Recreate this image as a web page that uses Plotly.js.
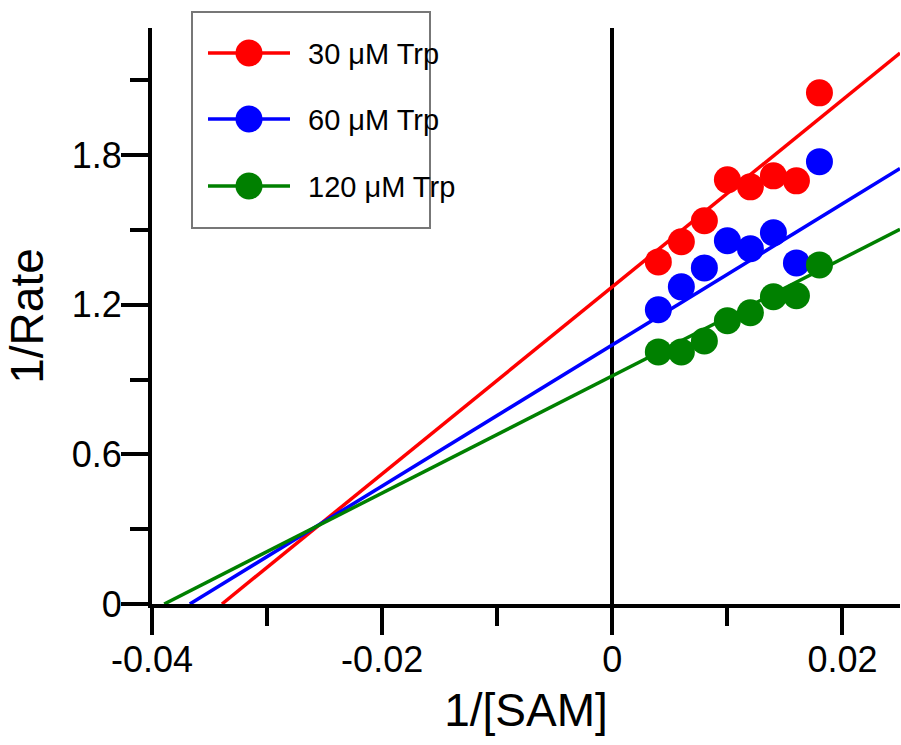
<!DOCTYPE html>
<html>
<head>
<meta charset="utf-8">
<script src="https://cdn.plot.ly/plotly-3.0.1.min.js"></script>
<style>html,body{margin:0;padding:0;background:#fff;}#chart{width:901px;height:745px;}</style>
</head>
<body>
<div id="chart"></div>
<script>
// Data
var invSAM = [0.004, 0.006, 0.008, 0.010, 0.012, 0.014, 0.016, 0.018];
var rate30 = [1.372, 1.453, 1.537, 1.701, 1.673, 1.717, 1.697, 2.050];
var rate60 = [1.180, 1.272, 1.348, 1.457, 1.425, 1.489, 1.368, 1.774];
var rate120 = [1.011, 1.011, 1.055, 1.136, 1.168, 1.232, 1.236, 1.360];
var seriesNames = ['30 μM Trp', '60 μM Trp', '120 μM Trp'];
var fitIntercepts = [1.272, 1.039, 0.915];
var fitSlopes = [37.5, 28.3, 23.5];
var xTickVals = [-0.04, -0.02, 0, 0.02];
var xTickText = ['-0.04', '-0.02', '0', '0.02'];
var yTickVals = [0, 0.6, 1.2, 1.8];
var yTickText = ['0', '0.6', '1.2', '1.8'];

var colors = ['#ff0000', '#0000ff', '#008000'];
var xRange = [-0.04, 0.025];
var yRange = [0, 2.31];
var seriesY = [rate30, rate60, rate120];

var traces = [];
for (var i = 0; i < 3; i++) {
  var x0 = -fitIntercepts[i] / fitSlopes[i];
  var x1 = xRange[1];
  traces.push({
    x: [x0, x1],
    y: [fitIntercepts[i] + fitSlopes[i] * x0, fitIntercepts[i] + fitSlopes[i] * x1],
    mode: 'lines', line: {color: colors[i], width: 3.5}, showlegend: false, hoverinfo: 'skip'
  });
}
for (var i = 0; i < 3; i++) {
  traces.push({
    x: invSAM, y: seriesY[i], mode: 'markers', name: seriesNames[i],
    marker: {color: colors[i], size: 27}, showlegend: false, cliponaxis: false
  });
}

// Plot-area geometry (pixels) used to place the hand-drawn legend box
var M = {l: 152, r: 1, t: 28, b: 141};
var W = 901 - M.l - M.r, H = 745 - M.t - M.b;
function px(xp) { return (xp - M.l) / W; }
function py(yp) { return (745 - M.b - yp) / H; }

var shapes = [{
  type: 'rect', xref: 'paper', yref: 'paper', layer: 'above',
  x0: px(192), x1: px(430), y0: py(228), y1: py(12),
  line: {color: '#777', width: 2}, fillcolor: '#fff'
}];
var annotations = [];
var rowY = [53, 119, 186];
for (var i = 0; i < 3; i++) {
  shapes.push({
    type: 'line', xref: 'paper', yref: 'paper', layer: 'above',
    x0: px(208), x1: px(290), y0: py(rowY[i]), y1: py(rowY[i]),
    line: {color: colors[i], width: 3.5}
  });
  shapes.push({
    type: 'circle', xref: 'paper', yref: 'paper', layer: 'above',
    xsizemode: 'pixel', ysizemode: 'pixel',
    xanchor: px(249), yanchor: py(rowY[i]),
    x0: -13.5, x1: 13.5, y0: -13.5, y1: 13.5,
    line: {width: 0}, fillcolor: colors[i]
  });
  annotations.push({
    xref: 'paper', yref: 'paper', x: px(306), y: py(rowY[i] + 1),
    xanchor: 'left', yanchor: 'middle', showarrow: false,
    text: seriesNames[i],
    font: {family: 'Liberation Sans, Arial, sans-serif', size: 29, color: '#000'}
  });
}

var axisFont = {family: 'Liberation Sans, Arial, sans-serif', size: 36, color: '#000'};
var titleFont = {family: 'Liberation Sans, Arial, sans-serif', size: 46, color: '#000'};
var layout = {
  width: 901, height: 745,
  margin: {l: M.l, r: M.r, t: M.t, b: M.b, pad: 0},
  paper_bgcolor: '#fff', plot_bgcolor: '#fff',
  font: {family: 'Liberation Sans, Arial, sans-serif', color: '#000'},
  showlegend: false,
  xaxis: {
    range: xRange, tickmode: 'array', tickvals: xTickVals, ticktext: xTickText,
    ticks: 'outside', ticklen: 27, tickwidth: 4, tickcolor: '#000',
    minor: {dtick: 0.01, tick0: 0, ticks: 'outside', ticklen: 18, tickwidth: 4, tickcolor: '#000'},
    showline: true, linewidth: 4, linecolor: '#000',
    showgrid: false, zeroline: true, zerolinecolor: '#000', zerolinewidth: 4,
    tickfont: axisFont, ticklabelstandoff: -6,
    title: {text: '1/[SAM]', font: titleFont, standoff: 16}
  },
  yaxis: {
    range: yRange, tickmode: 'array', tickvals: yTickVals, ticktext: yTickText,
    ticks: 'outside', ticklen: 27, tickwidth: 4, tickcolor: '#000',
    minor: {dtick: 0.3, tick0: 0, ticks: 'outside', ticklen: 18, tickwidth: 4, tickcolor: '#000'},
    showline: true, linewidth: 4, linecolor: '#000',
    showgrid: false, zeroline: false,
    tickfont: axisFont, ticklabelstandoff: -8,
    title: {text: '1/Rate', font: titleFont, standoff: 15}
  },
  shapes: shapes,
  annotations: annotations
};
Plotly.newPlot('chart', traces, layout, {displayModeBar: false, staticPlot: true});
</script>
</body>
</html>
